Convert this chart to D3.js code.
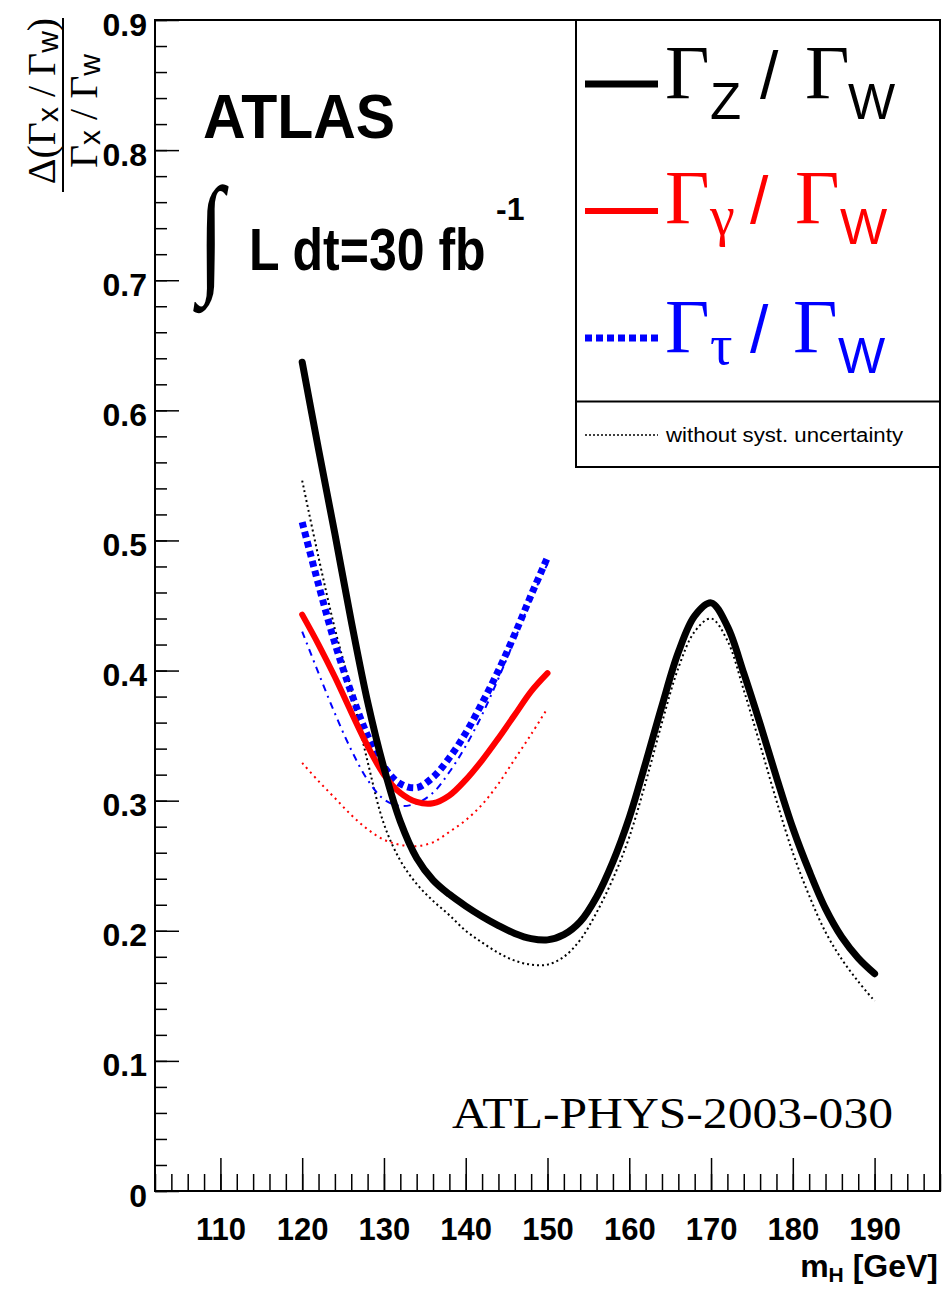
<!DOCTYPE html>
<html>
<head>
<meta charset="utf-8">
<script src="https://cdn.jsdelivr.net/npm/d3@7"></script>
<style>
  body { margin: 0; background: #fff; }
  text { font-family: "Liberation Sans", Arial, sans-serif; }
  .serif { font-family: "Liberation Serif", "Times New Roman", serif; }
</style>
</head>
<body>
<svg id="chart" width="951" height="1290"></svg>
<script>
// Higgs mass points (GeV)
var massZ = [120, 122, 124, 126, 128, 130, 132, 134, 136, 138, 140, 142, 144, 146, 148, 150, 152, 154, 156, 158,
             160, 162, 164, 166, 168, 170, 172, 174, 176, 178, 180, 182, 184, 186, 188, 190];
var ratioZ = [0.637, 0.570, 0.505, 0.438, 0.376, 0.325, 0.284, 0.256, 0.239, 0.228, 0.219, 0.211, 0.204, 0.198, 0.194, 0.193, 0.197, 0.207, 0.226, 0.253,
              0.287, 0.329, 0.373, 0.414, 0.442, 0.452, 0.434, 0.398, 0.359, 0.318, 0.279, 0.246, 0.217, 0.195, 0.179, 0.167];
var ratioZNoSyst = [0.546, 0.487, 0.432, 0.385, 0.330, 0.282, 0.254, 0.236, 0.223, 0.212, 0.200, 0.191, 0.183, 0.177, 0.174, 0.174, 0.180, 0.193, 0.214, 0.240,
                    0.272, 0.314, 0.360, 0.402, 0.430, 0.440, 0.423, 0.385, 0.343, 0.300, 0.260, 0.227, 0.199, 0.178, 0.161, 0.146];

var massLow = [120, 122, 124, 126, 128, 130, 132, 134, 136, 138, 140, 142, 144, 146, 148, 150];
var ratioGamma       = [0.443, 0.420, 0.395, 0.368, 0.342, 0.320, 0.306, 0.299, 0.298, 0.304, 0.316, 0.331, 0.348, 0.366, 0.384, 0.398];
var ratioGammaNoSyst = [0.329, 0.315, 0.302, 0.289, 0.278, 0.270, 0.266, 0.265, 0.268, 0.276, 0.285, 0.297, 0.313, 0.332, 0.351, 0.371];
var ratioTau         = [0.514, 0.466, 0.421, 0.383, 0.350, 0.326, 0.313, 0.310, 0.318, 0.333, 0.352, 0.375, 0.400, 0.428, 0.458, 0.487];
var ratioTauNoSyst   = [0.430, 0.398, 0.367, 0.339, 0.316, 0.301, 0.296, 0.298, 0.306, 0.322, 0.342, 0.366, 0.394, 0.424, 0.455, 0.482];

var xMajorTicks = [110, 120, 130, 140, 150, 160, 170, 180, 190];
var yMajorTicks = [0, 0.1, 0.2, 0.3, 0.4, 0.5, 0.6, 0.7, 0.8, 0.9];

var frame = {left: 155, top: 20, right: 940, bottom: 1191};

var svg = d3.select("#chart");

var x = d3.scaleLinear().domain([102, 198]).range([frame.left, frame.right]);
var y = d3.scaleLinear().domain([0, 0.9]).range([frame.bottom, frame.top]);

var xMinor = d3.range(102, 199, 2);
var yMinor = d3.range(0, 0.901, 0.02);

// minor ticks
svg.append("g")
    .attr("transform", "translate(0," + frame.bottom + ")")
    .call(d3.axisBottom(x).tickValues(xMinor).tickSize(-17).tickFormat(""))
    .call(function (g) { g.select(".domain").remove(); });

svg.append("g")
    .attr("transform", "translate(" + frame.left + ",0)")
    .call(d3.axisLeft(y).tickValues(yMinor).tickSize(-12).tickFormat(""))
    .call(function (g) { g.select(".domain").remove(); });

// major ticks + labels
var xAxis = svg.append("g")
    .attr("transform", "translate(0," + frame.bottom + ")")
    .call(d3.axisBottom(x).tickValues(xMajorTicks).tickSize(-33).tickPadding(27).tickFormat(d3.format("d")));
xAxis.select(".domain").remove();
xAxis.selectAll("text")
    .attr("font-family", "Liberation Sans, Arial, sans-serif")
    .attr("font-weight", "bold")
    .attr("font-size", 31)
    .attr("fill", "#000");

var yAxis = svg.append("g")
    .attr("transform", "translate(" + frame.left + ",0)")
    .call(d3.axisLeft(y).tickValues(yMajorTicks).tickSize(-24).tickPadding(8)
        .tickFormat(function (d) { return d === 0 ? "0" : d3.format(".1f")(d); }));
yAxis.select(".domain").remove();
yAxis.selectAll("text")
    .attr("font-family", "Liberation Sans, Arial, sans-serif")
    .attr("font-weight", "bold")
    .attr("font-size", 32)
    .attr("dy", "0.47em")
    .attr("fill", "#000");

svg.selectAll(".tick line").attr("stroke", "#000").attr("stroke-width", 1.5);

// frame
svg.append("rect")
    .attr("x", frame.left).attr("y", frame.top)
    .attr("width", frame.right - frame.left).attr("height", frame.bottom - frame.top)
    .attr("fill", "none").attr("stroke", "#000").attr("stroke-width", 2);

// curves
var line = d3.line()
    .x(function (d) { return x(d[0]); })
    .y(function (d) { return y(d[1]); })
    .curve(d3.curveCatmullRom.alpha(0.5));

var series = [
    {mass: massZ, vals: ratioZNoSyst, color: "#000", width: 2, dash: "2,3"},
    {mass: massLow, vals: ratioGammaNoSyst, color: "#f00", width: 2, dash: "2,4"},
    {mass: massLow, vals: ratioTauNoSyst, color: "#00f", width: 2, dash: "7,5,2,5"},
    {mass: massLow, vals: ratioTau, color: "#00f", width: 7, dash: "6,4"},
    {mass: massLow, vals: ratioGamma, color: "#f00", width: 6, dash: null},
    {mass: massZ, vals: ratioZ, color: "#000", width: 7, dash: null}
];

svg.append("g").selectAll("path")
    .data(series)
    .enter()
    .append("path")
    .attr("d", function (s) { return line(d3.zip(s.mass, s.vals)); })
    .attr("fill", "none")
    .attr("stroke", function (s) { return s.color; })
    .attr("stroke-width", function (s) { return s.width; })
    .attr("stroke-dasharray", function (s) { return s.dash; })
    .attr("stroke-linecap", function (s) { return s.dash ? "butt" : "round"; });

// y axis title (fraction)
var num = svg.append("text")
    .attr("transform", "translate(55,101) rotate(-90)")
    .attr("text-anchor", "middle")
    .attr("font-size", 40);
num.append("tspan").attr("class", "serif").text("Δ(Γ");
num.append("tspan").attr("font-size", 30).attr("dy", 3).text("x");
num.append("tspan").attr("class", "serif").attr("dy", -3).text(" / Γ");
num.append("tspan").attr("font-size", 30).attr("dy", 3).text("w");
num.append("tspan").attr("class", "serif").attr("dy", -3).text(")");

svg.append("line")
    .attr("x1", 63).attr("x2", 63).attr("y1", 18).attr("y2", 192)
    .attr("stroke", "#000").attr("stroke-width", 2);

var den = svg.append("text")
    .attr("transform", "translate(97,111) rotate(-90)")
    .attr("text-anchor", "middle")
    .attr("font-size", 40);
den.append("tspan").attr("class", "serif").text("Γ");
den.append("tspan").attr("font-size", 30).attr("dy", 3).text("x");
den.append("tspan").attr("class", "serif").attr("dy", -3).text(" / Γ");
den.append("tspan").attr("font-size", 30).attr("dy", 3).text("w");

// x axis title
var xt = svg.append("text")
    .attr("x", 938).attr("y", 1277)
    .attr("text-anchor", "end")
    .attr("font-weight", "bold")
    .attr("font-size", 32);
xt.append("tspan").text("m");
xt.append("tspan").attr("font-size", 21).attr("dy", 5).text("H");
xt.append("tspan").attr("dy", -5).text(" [GeV]");

// ATLAS labels
svg.append("text")
    .attr("transform", "translate(203,138) scale(1,1.07)")
    .attr("font-weight", "bold").attr("font-size", 59)
    .text("ATLAS");

svg.append("text")
    .attr("class", "serif")
    .attr("transform", "translate(198,278) scale(0.75,1.05)")
    .attr("font-size", 125)
    .text("∫");

svg.append("text")
    .attr("transform", "translate(249,270) scale(1,1.17)")
    .attr("font-weight", "bold").attr("font-size", 50)
    .text("L dt=30 fb");

svg.append("text")
    .attr("x", 496).attr("y", 220)
    .attr("font-weight", "bold").attr("font-size", 32)
    .text("-1");

svg.append("text")
    .attr("class", "serif")
    .attr("x", 893).attr("y", 1128)
    .attr("text-anchor", "end")
    .attr("font-size", 45)
    .attr("textLength", 441).attr("lengthAdjust", "spacingAndGlyphs")
    .text("ATL-PHYS-2003-030");

// legend
var legend = svg.append("g");
legend.append("rect")
    .attr("x", 576).attr("y", 20).attr("width", 364).attr("height", 447)
    .attr("fill", "#fff").attr("stroke", "#000").attr("stroke-width", 2);
legend.append("line")
    .attr("x1", 576).attr("x2", 940).attr("y1", 401.5).attr("y2", 401.5)
    .attr("stroke", "#000").attr("stroke-width", 2);

var legendItems = [
    {color: "#000", width: 7, dash: null, lineY: 84, base: 98, sub: "Z", subSerif: false, subX: 710, slashX: 760, g2X: 805, wX: 848},
    {color: "#f00", width: 6, dash: null, lineY: 211, base: 223, sub: "γ", subSerif: true, subX: 710, slashX: 750, g2X: 795, wX: 840},
    {color: "#00f", width: 7, dash: "7,4", lineY: 338, base: 352, sub: "τ", subSerif: true, subX: 710, slashX: 750, g2X: 793, wX: 838}
];

legendItems.forEach(function (it) {
    legend.append("line")
        .attr("x1", 585).attr("x2", 658).attr("y1", it.lineY).attr("y2", it.lineY)
        .attr("stroke", it.color).attr("stroke-width", it.width)
        .attr("stroke-dasharray", it.dash);
    legend.append("text").attr("class", "serif")
        .attr("x", 665).attr("y", it.base).attr("font-size", 77).attr("fill", it.color).text("Γ");
    legend.append("text").attr("class", it.subSerif ? "serif" : null)
        .attr("x", it.subX).attr("y", it.base + (it.subSerif ? 12 : 21))
        .attr("font-size", it.subSerif ? 56 : 51).attr("fill", it.color).text(it.sub);
    legend.append("text")
        .attr("x", it.slashX).attr("y", it.base).attr("font-size", 66).attr("fill", it.color).text("/");
    legend.append("text").attr("class", "serif")
        .attr("x", it.g2X).attr("y", it.base).attr("font-size", 77).attr("fill", it.color).text("Γ");
    legend.append("text")
        .attr("x", it.wX).attr("y", it.base + 21).attr("font-size", 50).attr("fill", it.color).text("W");
});

legend.append("line")
    .attr("x1", 585).attr("x2", 658).attr("y1", 435).attr("y2", 435)
    .attr("stroke", "#000").attr("stroke-width", 1.5).attr("stroke-dasharray", "2,2");
legend.append("text")
    .attr("x", 666).attr("y", 442)
    .attr("font-size", 19.5)
    .attr("textLength", 237).attr("lengthAdjust", "spacingAndGlyphs")
    .text("without syst. uncertainty");
</script>
</body>
</html>
